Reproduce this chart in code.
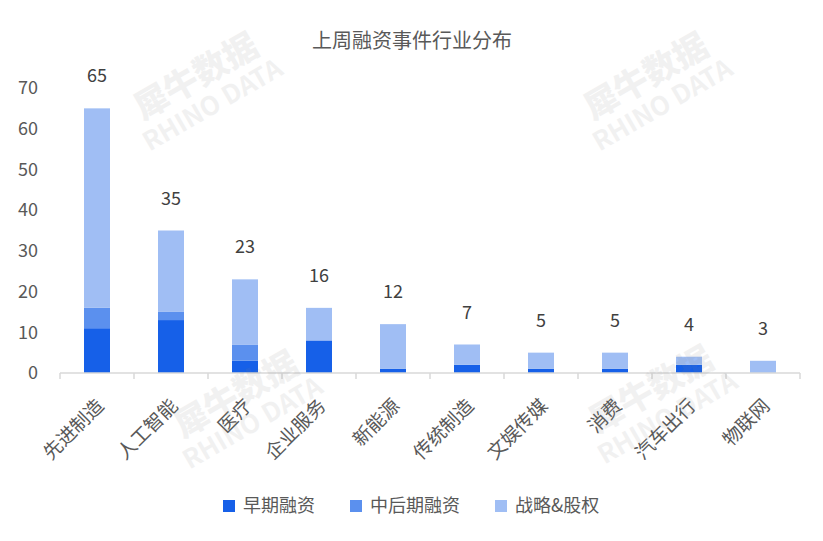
<!DOCTYPE html>
<html>
<head>
<meta charset="utf-8">
<script src="https://cdn.jsdelivr.net/npm/d3@7"></script>
<style>
  body { margin: 0; background: #fff; }
  text { font-family: 'Noto Sans CJK SC', 'Noto Sans', sans-serif; }
</style>
</head>
<body>
<div id="chart"></div>
<script>
// data
var categories = ['先进制造', '人工智能', '医疗', '企业服务', '新能源', '传统制造', '文娱传媒', '消费', '汽车出行', '物联网']
var early = [11, 13, 3, 8, 1, 2, 1, 1, 2, 0]
var later = [5, 2, 4, 0, 0, 0, 0, 0, 0, 0]
var strategic = [49, 20, 16, 8, 11, 5, 4, 4, 2, 3]
var seriesNames = ['早期融资', '中后期融资', '战略&股权']
var yTicks = [0, 10, 20, 30, 40, 50, 60, 70]
var title = '上周融资事件行业分布'

var colors = ['#1660e8', '#5b90ee', '#a0bef4']

var width = 823
var height = 541
var margin = { top: 88, left: 60, right: 23, bottom: 168 }

var svg = d3
  .select('#chart')
  .append('svg')
  .attr('width', width)
  .attr('height', height)

var rows = categories.map((c, i) => ({
  cat: c,
  early: early[i],
  later: later[i],
  strategic: strategic[i]
}))

var xScale = d3
  .scaleBand()
  .domain(categories)
  .range([margin.left, width - margin.right])
  .paddingInner(0)

var yScale = d3
  .scaleLinear()
  .domain([0, 70])
  .range([height - margin.bottom, margin.top])

var stack = d3.stack().keys(['early', 'later', 'strategic'])
var layers = stack(rows)

var barWidth = 26

svg
  .selectAll('.layer')
  .data(layers)
  .enter()
  .append('g')
  .attr('class', 'layer')
  .attr('fill', (d, i) => colors[i])
  .selectAll('rect')
  .data(d => d)
  .enter()
  .append('rect')
  .attr('x', d => xScale(d.data.cat) + xScale.bandwidth() / 2 - barWidth / 2)
  .attr('width', barWidth)
  .attr('y', d => yScale(d[1]))
  .attr('height', d => yScale(d[0]) - yScale(d[1]))

// totals
svg
  .selectAll('.total')
  .data(rows)
  .enter()
  .append('text')
  .attr('class', 'total')
  .text(d => d.early + d.later + d.strategic)
  .attr('x', d => xScale(d.cat) + xScale.bandwidth() / 2)
  .attr('y', d => yScale(d.early + d.later + d.strategic) - 26)
  .attr('text-anchor', 'middle')
  .attr('font-size', 18)
  .attr('fill', '#404040')

// y axis labels, no line
svg
  .selectAll('.y-label')
  .data(yTicks)
  .enter()
  .append('text')
  .attr('class', 'y-label')
  .text(d => d)
  .attr('x', 38)
  .attr('y', d => yScale(d))
  .attr('dy', '0.35em')
  .attr('text-anchor', 'end')
  .attr('font-size', 18)
  .attr('fill', '#595959')

// x axis
var xAxis = svg
  .append('g')
  .attr('transform', `translate(0,${yScale(0)})`)

xAxis
  .append('line')
  .attr('x1', margin.left)
  .attr('x2', width - margin.right)
  .attr('stroke', '#d9d9d9')
  .attr('stroke-width', 1.5)

var edges = categories.map(c => xScale(c)).concat([width - margin.right])

xAxis
  .selectAll('.x-tick')
  .data(edges)
  .enter()
  .append('line')
  .attr('x1', d => d)
  .attr('x2', d => d)
  .attr('y1', 0)
  .attr('y2', 6)
  .attr('stroke', '#d9d9d9')
  .attr('stroke-width', 1.5)

xAxis
  .selectAll('.x-label')
  .data(categories)
  .enter()
  .append('text')
  .text(d => d)
  .attr('text-anchor', 'end')
  .attr('font-size', 19)
  .attr('fill', '#595959')
  .attr('transform', d => {
    let cx = xScale(d) + xScale.bandwidth() / 2 + 8
    return `translate(${cx},34) rotate(-45)`
  })

// title
svg
  .append('text')
  .text(title)
  .attr('x', 412)
  .attr('y', 48)
  .attr('text-anchor', 'middle')
  .attr('font-size', 20)
  .attr('fill', '#595959')

// legend
var legendX = [223, 350, 495]
var legend = svg
  .selectAll('.legend')
  .data(seriesNames)
  .enter()
  .append('g')
  .attr('transform', (d, i) => `translate(${legendX[i]},506)`)

legend
  .append('rect')
  .attr('x', 0)
  .attr('y', -6)
  .attr('width', 12)
  .attr('height', 12)
  .attr('fill', (d, i) => colors[i])

legend
  .append('text')
  .text(d => d)
  .attr('x', 20)
  .attr('dy', '0.35em')
  .attr('font-size', 18)
  .attr('fill', '#595959')

// faint watermarks on top
var marks = [[205, 92], [655, 92], [245, 410], [660, 405]]
var wm = svg
  .selectAll('.wm')
  .data(marks)
  .enter()
  .append('g')
  .attr('transform', d => `translate(${d[0]},${d[1]}) rotate(-30)`)
  .attr('fill', '#808080')
  .attr('opacity', 0.1)
  .attr('text-anchor', 'middle')

wm
  .append('text')
  .text('犀牛数据')
  .attr('y', -6)
  .attr('font-size', 34)
  .attr('font-weight', 900)

wm
  .append('text')
  .text('RHINO DATA')
  .attr('y', 24)
  .attr('font-size', 26)
  .attr('font-weight', 700)
</script>
</body>
</html>
